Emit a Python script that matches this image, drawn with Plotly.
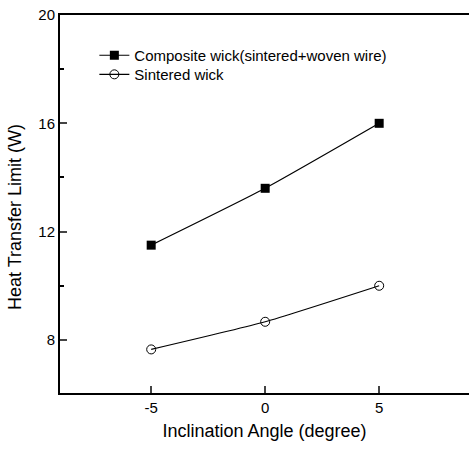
import plotly.graph_objects as go

angles = [-5, 0, 5]
composite = [11.5, 13.6, 16.0]
sintered = [7.65, 8.67, 10.0]
x_ticks = [-5, 0, 5]
x_tick_labels = ["-5", "0", "5"]
y_ticks = [8, 12, 16, 20]
y_tick_labels = ["8", "12", "16", "20"]
series_names = ["Composite wick(sintered+woven wire)", "Sintered wick"]

font_family = "Liberation Sans, Arial, sans-serif"

fig = go.Figure()
fig.add_trace(go.Scatter(
    x=angles, y=composite, mode="lines+markers", name=series_names[0], legend="legend",
    line=dict(color="black", width=1.2, shape="spline", smoothing=0.5),
    marker=dict(symbol="square", size=9, color="black"),
))
fig.add_trace(go.Scatter(
    x=angles, y=sintered, mode="lines+markers", name=series_names[1], legend="legend2",
    line=dict(color="black", width=1.2, shape="spline", smoothing=0.5),
    marker=dict(symbol="circle-open", size=9, color="black", line=dict(width=1, color="black")),
))

fig.update_layout(
    width=469, height=450,
    margin=dict(l=60, r=0, t=15, b=57),
    paper_bgcolor="white", plot_bgcolor="white",
    font=dict(family=font_family, color="black", size=15),
    showlegend=True,
    legend=dict(x=0.084, y=0.9365, xanchor="left", yanchor="top",
                bgcolor="rgba(0,0,0,0)", font=dict(size=15)),
    legend2=dict(x=0.084, y=0.886, xanchor="left", yanchor="top",
                 bgcolor="rgba(0,0,0,0)", font=dict(size=15)),
    annotations=[dict(
        text="Heat Transfer Limit (W)", textangle=-90, showarrow=False,
        xref="paper", yref="paper", x=(15 - 60) / 409, y=1 - (217 - 15) / 378,
        xanchor="center", yanchor="middle", font=dict(size=18),
    )],
)
fig.update_xaxes(
    range=[-9, 8.94], tickvals=x_ticks, ticktext=x_tick_labels,
    ticks="inside", ticklen=7, tickwidth=1.5,
    showline=True, linecolor="black", linewidth=2, mirror=True, showgrid=False,
    zeroline=False, tickfont=dict(size=15),
    title=dict(text="Inclination Angle (degree)", font=dict(size=18), standoff=9),
)
fig.update_yaxes(
    range=[6.04, 20], tickvals=y_ticks, ticktext=y_tick_labels,
    ticks="inside", ticklen=7, tickwidth=1.5,
    showline=True, linecolor="black", linewidth=2, mirror=False, showgrid=False,
    zeroline=False, tickfont=dict(size=15),
    minor=dict(tickvals=[10, 14, 18], ticks="inside", ticklen=4, tickwidth=1.5, tickcolor="black"),
)

fig.write_html("out.html")
